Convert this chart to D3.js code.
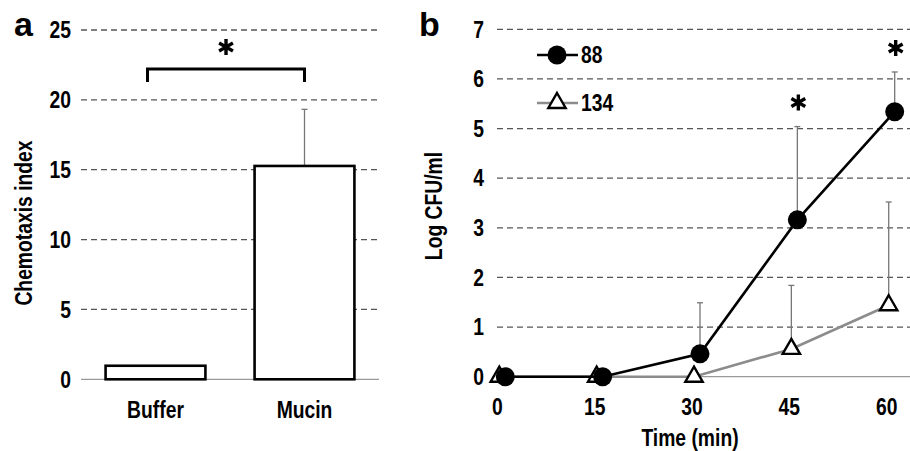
<!DOCTYPE html>
<html lang="en">
<head>
<meta charset="UTF-8">
<title>Chemotaxis and CFU</title>
<script src="https://cdn.jsdelivr.net/npm/d3@7"></script>
<style>
  body { margin: 0; background: #fff; }
  text { font-family: "Liberation Sans Narrow", "Arial Narrow", "Liberation Sans", Arial, sans-serif; font-weight: bold; }
</style>
</head>
<body>
<script>
// panel a
const groups = ["Buffer", "Mucin"];
const chemoIndex = [0.97, 15.27];
const chemoErr = [0, 4.05];
const aTicks = [0, 5, 10, 15, 20, 25];

// panel b
const times = [0, 15, 30, 45, 60];
const cfu88 = [0, 0, 0.46, 3.16, 5.34];
const err88 = [0, 0, 1.03, 1.88, 0.8];
const cfu134 = [0, 0, 0, 0.56, 1.44];
const err134 = [0, 0, 0, 1.28, 2.08];
const bTicks = [0, 1, 2, 3, 4, 5, 6, 7];
const sigTimes = [45, 60];

const FS = 23, SX = 0.84;

const svg = d3.select("body").append("svg")
    .attr("width", 910).attr("height", 451);

// condensed look: squeeze text horizontally (no narrow font installed)
function label(g, x, y, str, anchor, rot) {
  return g.append("text")
      .attr("transform", `translate(${x},${y})` + (rot ? ` rotate(${rot})` : "") + ` scale(${SX},1)`)
      .attr("text-anchor", anchor || "start")
      .attr("font-size", FS)
      .text(str);
}

// six-armed asterisk drawn as strokes
function star(g, cx, cy) {
  const r = 8, dx = r * Math.cos(Math.PI / 6), dy = r * Math.sin(Math.PI / 6);
  g.append("path")
      .attr("d", `M0,${-r}V${r}M${-dx},${-dy}L${dx},${dy}M${-dx},${dy}L${dx},${-dy}`)
      .attr("transform", `translate(${cx},${cy})`)
      .attr("stroke", "#000").attr("stroke-width", 3.4).attr("fill", "none");
}

// ---------- panel a ----------
const ya = d3.scaleLinear().domain([0, 25]).range([379.3, 30]);
const xa = d3.scaleBand().domain(groups).range([81, 379]).paddingInner(0.33).paddingOuter(0.165);

const ga = svg.append("g");
ga.selectAll(".grid").data(aTicks.filter(d => d > 0)).enter().append("line")
    .attr("x1", 81).attr("x2", 379)
    .attr("y1", d => ya(d)).attr("y2", d => ya(d))
    .attr("stroke", "#555").attr("stroke-width", 1.3).attr("stroke-dasharray", "6,4");
ga.append("line").attr("x1", 81).attr("x2", 379).attr("y1", ya(0)).attr("y2", ya(0))
    .attr("stroke", "#999").attr("stroke-width", 1.3);

groups.forEach((d, i) => {
  if (!chemoErr[i]) return;
  const cx = xa(d) + xa.bandwidth() / 2;
  const top = ya(chemoIndex[i] + chemoErr[i]);
  ga.append("line").attr("x1", cx).attr("x2", cx)
      .attr("y1", ya(chemoIndex[i])).attr("y2", top)
      .attr("stroke", "#777").attr("stroke-width", 1.3);
  ga.append("line").attr("x1", cx - 3).attr("x2", cx + 3)
      .attr("y1", top).attr("y2", top)
      .attr("stroke", "#777").attr("stroke-width", 1.3);
});

ga.selectAll(".bar").data(groups).enter().append("rect")
    .attr("x", d => xa(d)).attr("width", xa.bandwidth())
    .attr("y", (d, i) => ya(chemoIndex[i]))
    .attr("height", (d, i) => ya(0) - ya(chemoIndex[i]))
    .attr("fill", "#fff").attr("stroke", "#000").attr("stroke-width", 2.6);

aTicks.forEach(d => label(ga, 71, ya(d) + FS * 0.36, d, "end"));
groups.forEach(d => label(ga, xa(d) + xa.bandwidth() / 2, 418, d, "middle"));
label(ga, 32, 223, "Chemotaxis index", "middle", -90);

// significance bracket
const bx1 = xa("Buffer") + xa.bandwidth() * 0.42;
const bx2 = xa("Mucin") + xa.bandwidth() / 2;
ga.append("path")
    .attr("d", `M${bx1},82 V69 H${bx2} V82`)
    .attr("fill", "none").attr("stroke", "#000").attr("stroke-width", 3);
star(ga, (bx1 + bx2) / 2, 47);

svg.append("text").attr("x", 14).attr("y", 36).attr("font-size", 34)
    .style("font-family", "Liberation Sans, Arial, sans-serif").text("a");

// ---------- panel b ----------
const yb = d3.scaleLinear().domain([0, 7]).range([376.7, 29.3]);
const xb = d3.scaleLinear().domain([0, 60]).range([497.3, 886.7]);

const gb = svg.append("g");
gb.selectAll(".grid").data(bTicks.filter(d => d > 0)).enter().append("line")
    .attr("x1", 497).attr("x2", 910)
    .attr("y1", d => yb(d)).attr("y2", d => yb(d))
    .attr("stroke", "#555").attr("stroke-width", 1.3).attr("stroke-dasharray", "6,4");
gb.append("line").attr("x1", 497).attr("x2", 910).attr("y1", yb(0)).attr("y2", yb(0))
    .attr("stroke", "#999").attr("stroke-width", 1.3);

bTicks.forEach(d => label(gb, 484, yb(d) + FS * 0.36, d, "end"));
times.forEach(d => label(gb, xb(d), 415, d, "middle"));
label(gb, 690, 446, "Time (min)", "middle");
label(gb, 442, 206, "Log CFU/ml", "middle", -90);

svg.append("text").attr("x", 419).attr("y", 36).attr("font-size", 34)
    .style("font-family", "Liberation Sans, Arial, sans-serif").text("b");

function errorBars(vals, errs, off) {
  times.forEach((t, i) => {
    if (!errs[i]) return;
    const cx = xb(t) + off;
    const top = yb(vals[i] + errs[i]);
    gb.append("line").attr("x1", cx).attr("x2", cx)
        .attr("y1", yb(vals[i])).attr("y2", top)
        .attr("stroke", "#777").attr("stroke-width", 1.3);
    gb.append("line").attr("x1", cx - 3).attr("x2", cx + 3)
        .attr("y1", top).attr("y2", top)
        .attr("stroke", "#777").attr("stroke-width", 1.3);
  });
}
errorBars(cfu134, err134, 2);
errorBars(cfu88, err88, 8);

const tri = d3.symbol().type(d3.symbolTriangle).size(130);

function series(vals, off, color) {
  const line = d3.line().x((d, i) => xb(times[i]) + off).y(d => yb(d));
  gb.append("path").datum(vals).attr("d", line)
      .attr("fill", "none").attr("stroke", color).attr("stroke-width", 2.6);
}
series(cfu134, 2, "#8c8c8c");
gb.selectAll(".tri").data(cfu134).enter().append("path")
    .attr("d", tri)
    .attr("transform", (d, i) => `translate(${xb(times[i]) + 2},${yb(d)})`)
    .attr("fill", "#fff").attr("stroke", "#000").attr("stroke-width", 2.4);
series(cfu88, 8, "#000");
gb.selectAll(".dot").data(cfu88).enter().append("circle")
    .attr("cx", (d, i) => xb(times[i]) + 8).attr("cy", d => yb(d)).attr("r", 9.5)
    .attr("fill", "#000");

// significance marks
sigTimes.forEach(t => {
  const i = times.indexOf(t);
  star(gb, xb(t) + 9, yb(cfu88[i] + err88[i]) - 24);
});

// legend
const lg = gb.append("g");
lg.append("line").attr("x1", 537).attr("x2", 578).attr("y1", 55).attr("y2", 55)
    .attr("stroke", "#000").attr("stroke-width", 2.6);
lg.append("circle").attr("cx", 557).attr("cy", 55).attr("r", 9.5).attr("fill", "#000");
label(lg, 581, 63, "88");
lg.append("line").attr("x1", 537).attr("x2", 578).attr("y1", 103).attr("y2", 103)
    .attr("stroke", "#8c8c8c").attr("stroke-width", 2.6);
lg.append("path").attr("d", tri).attr("transform", "translate(557,103)")
    .attr("fill", "#fff").attr("stroke", "#000").attr("stroke-width", 2.4);
label(lg, 581, 111, "134");
</script>
</body>
</html>
